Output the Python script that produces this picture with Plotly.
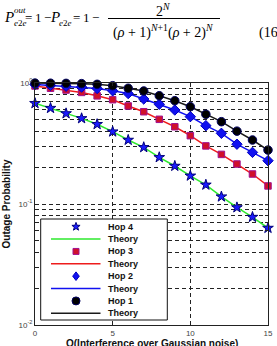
import plotly.graph_objects as go
import math

# ---------------- data ----------------
q_vals = list(range(16))
hop4 = [0.68, 0.62, 0.56, 0.51, 0.456, 0.396, 0.338, 0.294, 0.243, 0.206,
        0.171, 0.144, 0.115, 0.0936, 0.078, 0.0633]
hop3 = [0.945, 0.905, 0.875, 0.836, 0.783, 0.728, 0.646, 0.579, 0.501, 0.435,
        0.367, 0.302, 0.257, 0.214, 0.177, 0.141]
hop2 = [0.97, 0.955, 0.94, 0.925, 0.9, 0.862, 0.818, 0.738, 0.667, 0.598,
        0.527, 0.444, 0.384, 0.312, 0.267, 0.228]
hop1 = [0.998, 0.996, 0.993, 0.988, 0.975, 0.95, 0.905, 0.859, 0.785, 0.714,
        0.637, 0.551, 0.479, 0.40, 0.338, 0.279]

series_names = ["Hop 4", "Hop 3", "Hop 2", "Hop 1"]
theory_name = "Theory"
x_ticks = [0, 5, 10, 15]
y_major = [0.01, 0.1, 1]
y_major_text = ["10<sup>-2</sup>", "10<sup>-1</sup>", "10<sup>0</sup>"]
x_title = "Q(Interference over Gaussian noise)"
y_title = "Outage Probability"

# ---------------- styles ----------------
W, H = 277, 346
L, R, T, B = 35, 9, 83, 21
PW, PH = W - L - R, H - T - B

series = [hop4, hop3, hop2, hop1]
line_colors = ["#2ee82e", "#ee1c1c", "#1010f0", "#1a1a1a"]
symbols = ["star", "square", "diamond", "circle"]
m_fill = ["#1a1aff", "#d0102a", "#1010f0", "#000000"]
m_edge = ["#00007a", "#a01090", "#0000c0", "#000060"]
m_size = [8, 6.5, 8, 8.5]

fig = go.Figure()
for i, ys in enumerate(series):
    fig.add_trace(go.Scatter(x=q_vals, y=ys, mode="lines",
                             line=dict(color=line_colors[i], width=1.5),
                             showlegend=False, cliponaxis=False))
for i, ys in enumerate(series):
    fig.add_trace(go.Scatter(x=q_vals, y=ys, mode="markers",
                             marker=dict(symbol=symbols[i], size=m_size[i], color=m_fill[i],
                                         line=dict(color=m_edge[i], width=1)),
                             showlegend=False, cliponaxis=False))

# minor y ticks (2..9 per decade)
y_minor = [d * k for d in [0.01, 0.1] for k in range(2, 10)]

grid_dash = "4px,3px"
grid_col = "#222"
fig.update_layout(
    width=W, height=H, autosize=False,
    margin=dict(l=L, r=R, t=T, b=B, pad=0),
    paper_bgcolor="white", plot_bgcolor="white",
    font=dict(family="Liberation Sans, Arial, sans-serif", color="#222"),
    xaxis=dict(range=[0, 15], tickvals=x_ticks, ticks="inside", ticklen=3,
               tickcolor="#222", showline=True, linecolor="#222", linewidth=1,
               mirror="ticks", showgrid=True, gridcolor=grid_col, gridwidth=1,
               griddash=grid_dash, zeroline=False,
               tickfont=dict(size=8, color="#444"),
               automargin=False),
    yaxis=dict(type="log", range=[-2, 0], tickvals=y_major, ticktext=y_major_text,
               ticks="inside", ticklen=3, tickcolor="#222", showline=True,
               linecolor="#222", linewidth=1, mirror="ticks", showgrid=True,
               gridcolor=grid_col, gridwidth=1, griddash=grid_dash, zeroline=False,
               minor=dict(tickvals=y_minor, ticks="inside", ticklen=3, tickcolor="#222",
                          showgrid=True, gridcolor=grid_col, gridwidth=1, griddash=grid_dash),
               tickfont=dict(size=8, color="#444"),
               title=dict(text="<b>" + y_title + "</b>", font=dict(size=10, color="#111"),
                          standoff=6),
               automargin=False),
    showlegend=False,
)

def px2x(px):
    return (px - L) / PW

def px2y(py):
    return (T + PH - py) / PH

shapes = []
annots = []

# x-axis title (placed like the reference, at the bottom edge)
annots.append(dict(xref="paper", yref="paper", x=0.5, y=px2y(343),
                   xanchor="center", yanchor="middle", showarrow=False,
                   text="<b>" + x_title + "</b>",
                   font=dict(size=10, color="#111",
                             family="Liberation Sans, Arial, sans-serif")))

# ---- manual legend ----
box_x0, box_x1, box_y0, box_y1 = 40.7, 167.3, 219, 320
shapes.append(dict(type="rect", xref="paper", yref="paper",
                   x0=px2x(box_x0), x1=px2x(box_x1), y0=px2y(box_y1), y1=px2y(box_y0),
                   line=dict(color="#111", width=1), fillcolor="white", layer="above"))
row0, row_gap = 226.7, 12.37
sym_x, line_x0, line_x1, text_x = 76, 51, 100.5, 106


def star_path(ro, ri):
    pts = []
    for k in range(10):
        ang = math.pi / 2 + k * math.pi / 5
        r = ro if k % 2 == 0 else ri
        pts.append((r * math.cos(ang), r * math.sin(ang)))
    return "M " + " L ".join(f"{a:.2f},{b:.2f}" for a, b in pts) + " Z"


for i, name in enumerate(series_names):
    ym = row0 + (2 * i) * row_gap
    yl = row0 + (2 * i + 1) * row_gap
    ax_, ay_ = px2x(sym_x), px2y(ym)
    base = dict(xref="paper", yref="paper", xsizemode="pixel", ysizemode="pixel",
                xanchor=ax_, yanchor=ay_, fillcolor=m_fill[i],
                line=dict(color=m_edge[i], width=1), layer="above")
    if symbols[i] == "star":
        shapes.append(dict(type="path", path=star_path(4.3, 1.8), **base))
    elif symbols[i] == "square":
        shapes.append(dict(type="rect", x0=-3, x1=3, y0=-3, y1=3, **base))
    elif symbols[i] == "diamond":
        shapes.append(dict(type="path", path="M 0,4.3 L 3.3,0 L 0,-4.3 L -3.3,0 Z", **base))
    else:
        shapes.append(dict(type="circle", x0=-4, x1=4, y0=-4, y1=4, **base))
    shapes.append(dict(type="line", xref="paper", yref="paper",
                       x0=px2x(line_x0), x1=px2x(line_x1), y0=px2y(yl), y1=px2y(yl),
                       line=dict(color=line_colors[i], width=1.5), layer="above"))
    for yy, txt in [(ym, name), (yl, theory_name)]:
        annots.append(dict(xref="paper", yref="paper", x=px2x(text_x), y=px2y(yy),
                           xanchor="left", yanchor="middle", showarrow=False,
                           text="<b>" + txt + "</b>",
                           font=dict(size=9, color="#111",
                                     family="Liberation Sans, Arial, sans-serif")))

# ---- equation above chart ----
serif = "Liberation Serif, Times New Roman, serif"
eq_parts = [
    (2, 17, "<i>P</i>", 15, "left"),
    (11.5, 10.5, "<i>out</i>", 9, "left"),
    (11.5, 23, "<i>e</i>2<i>e</i>", 9, "left"),
    (23, 17, "=\u20091\u2009\u2212", 13, "left"),
    (48, 17, "<i>P</i>", 15, "left"),
    (57, 23, "<i>e</i>2<i>e</i>", 9, "left"),
    (71, 17, "=\u20091\u2009\u2212", 13, "left"),
    (163, 10, "2<sup><i>N</i></sup>", 14, "center"),
    (163, 31, "(<i>\u03c1</i> + 1)<sup><i>N</i>+1</sup>(<i>\u03c1</i> + 2)<sup><i>N</i></sup>", 14, "center"),
    (257, 33, "(16)", 14, "left"),
]
for px, py, txt, sz, anc in eq_parts:
    annots.append(dict(xref="paper", yref="paper", x=px2x(px), y=px2y(py),
                       xanchor=anc, yanchor="middle", showarrow=False, text=txt,
                       font=dict(size=sz, color="#000", family=serif)))
shapes.append(dict(type="line", xref="paper", yref="paper",
                   x0=px2x(108), x1=px2x(220), y0=px2y(18.5), y1=px2y(18.5),
                   line=dict(color="#000", width=1)))

fig.update_layout(shapes=shapes, annotations=annots)
fig.write_html("out.html")
